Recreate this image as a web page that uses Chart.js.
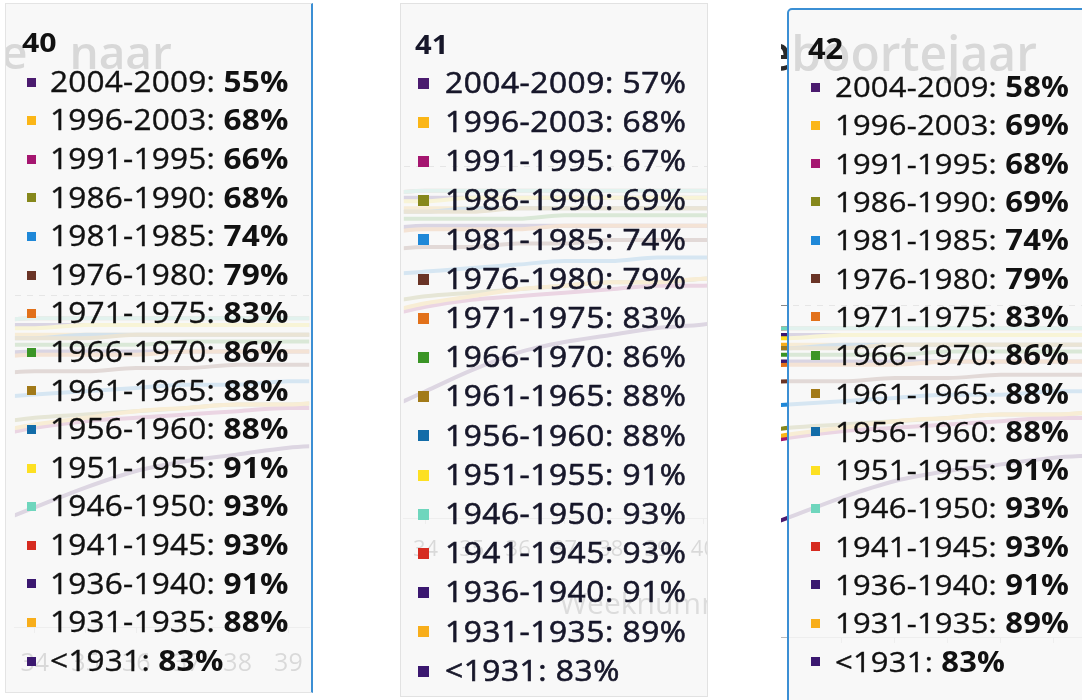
<!DOCTYPE html>
<html>
<head>
<meta charset="utf-8">
<script src="https://cdn.jsdelivr.net/npm/chart.js@4.4.1/dist/chart.umd.min.js"></script>
<style>
  html, body { margin: 0; padding: 0; background: #fff; }
  body { width: 1082px; height: 700px; position: relative; overflow: hidden; font-family: "Open Sans", sans-serif; }
  .panel { position: absolute; overflow: hidden; background: #fff; }
  .panel canvas { position: absolute; left: 0; top: 0; }
  .bgtitle { position: absolute; white-space: nowrap; font-weight: 600; color: #2a2a2a; line-height: 1; }
  .layer { position: absolute; left: 0; top: 0; right: 0; bottom: 0; }
  .box { position: absolute; box-sizing: border-box; background: rgba(247, 247, 247, 0.85); }
  .ttl, .row { position: absolute; white-space: nowrap; line-height: 1; transform-origin: 0 50%; }
  .sq { position: absolute; }
</style>
</head>
<body>
<script>
// weeknummer en geboortejaar-groepen
const weeks = [33, 34, 35, 36, 37, 38, 39, 40, 41, 42];
const cohorts = ['2004-2009', '1996-2003', '1991-1995', '1986-1990', '1981-1985', '1976-1980',
  '1971-1975', '1966-1970', '1961-1965', '1956-1960', '1951-1955', '1946-1950',
  '1941-1945', '1936-1940', '1931-1935', '<1931'];
const colors = ['#4b1b6f', '#fbb617', '#a51670', '#86881c', '#1f88d8', '#6a3426',
  '#e2711a', '#3b9526', '#a27a19', '#136ca8', '#fde022', '#6fd6bd',
  '#d62b20', '#3b1870', '#f8ae1b', '#3b1870'];

// vaccinatiegraad (%) per week, zelfde volgorde als cohorts
const week33 = [30, 58, 57, 61, 69, 76, 81, 85, 87, 87, 90, 92, 92, 91, 88, 82];
const week34 = [36, 61, 60, 63, 70, 77, 82, 85, 87, 87, 90, 93, 93, 91, 88, 83];
const week35 = [42, 63, 62, 64, 71, 77, 82, 85, 87, 88, 91, 93, 93, 91, 88, 83];
const week36 = [47, 65, 63, 65, 72, 78, 82, 85, 88, 88, 91, 93, 93, 91, 88, 83];
const week37 = [50, 66, 64, 66, 73, 78, 83, 86, 88, 88, 91, 93, 93, 91, 88, 83];
const week38 = [52, 67, 65, 67, 73, 79, 83, 86, 88, 88, 91, 93, 93, 91, 88, 83];
const week39 = [54, 67, 66, 67, 74, 79, 83, 86, 88, 88, 91, 93, 93, 91, 88, 83];
const week40 = [55, 68, 66, 68, 74, 79, 83, 86, 88, 88, 91, 93, 93, 91, 88, 83];
const week41 = [57, 68, 67, 69, 74, 79, 83, 86, 88, 88, 91, 93, 93, 91, 89, 83];
const week42 = [58, 69, 68, 69, 74, 79, 83, 86, 88, 88, 91, 93, 93, 91, 89, 83];
const weekValues = [week33, week34, week35, week36, week37, week38, week39, week40, week41, week42];

const tipWeeks = [40, 41, 42];

Chart.defaults.font.family = '"Open Sans", sans-serif';

// drie schermafdrukken naast elkaar
const panels = [
  { id: 'p40', left: 5, top: 3, width: 313, height: 690, canvasW: 313, canvasH: 740,
    xMin: 33.61, xMax: 39.41, chartTop: 292, chartBottom: 624, tickFont: 25, tickPad: 16, showLabels: true,
    box: { left: 0, top: 0, width: 308, height: 690, border: '1px solid #e4e4e4', borderRight: '2px solid #3b8fd4', radius: 0 },
    bg: { text: 'e naar', left: -4, base: 66, size: 46, wordSpacing: 30 },
    ttl: { left: 17, cy: 39, size: 27, weight: 700, sx: 1.12 },
    row: { sqLeft: 22, sq: 9, textLeft: 45, cy0: 79, step: 38.6, size: 28.5, sx: 1.108, ls: 0.2, stroke: 0.35, bold: true, color: '#111' } },
  { id: 'p41', left: 400, top: 3, width: 308, height: 694, canvasW: 514, canvasH: 640,
    xMin: 33.53, xMax: 44.54, chartTop: 163, chartBottom: 515, tickFont: 22, tickPad: 13, showLabels: true,
    axisTitle: true, titleFont: 30, titlePad: 20,
    box: { left: 0, top: 0, width: 308, height: 694, border: '1px solid #e2e2e2', radius: 0 },
    ttl: { left: 15, cy: 41, size: 27, weight: 700, sx: 1.08 },
    row: { sqLeft: 18, sq: 11, textLeft: 45, cy0: 80, step: 39.2, size: 28.5, sx: 1.11, ls: 0.5, stroke: 0.6, bold: false, color: '#17172a' } },
  { id: 'p42', left: 781, top: 0, width: 301, height: 700, canvasW: 301, canvasH: 700,
    xMin: 33.85, xMax: 39.53, chartTop: 305, chartBottom: 637, tickFont: 25, tickPad: 16, showLabels: false,
    box: { left: 6, top: 8, width: 330, height: 720, border: '2px solid #3b8fd4', radius: 5 },
    bg: { text: 'geboortejaar', left: -44, base: 72, size: 48, wordSpacing: 0 },
    ttl: { left: 27, cy: 49, size: 28, weight: 700, sx: 1.1 },
    row: { sqLeft: 30, sq: 9, textLeft: 54, cy0: 87, step: 38.3, size: 28, sx: 1.106, ls: 0.2, stroke: 0.35, bold: true, color: '#111' } }
];
const panelById = {};

function renderTip(context) {
  const tooltip = context.tooltip;
  const p = panelById[context.chart.canvas.id];
  const layer = p.layerEl;
  layer.replaceChildren();
  if (!tooltip.dataPoints || !tooltip.dataPoints.length) return;

  const box = document.createElement('div');
  box.className = 'box';
  Object.assign(box.style, {
    left: p.box.left + 'px', top: p.box.top + 'px', width: p.box.width + 'px', height: p.box.height + 'px',
    border: p.box.border, borderRadius: p.box.radius + 'px'
  });
  if (p.box.borderRight) box.style.borderRight = p.box.borderRight;
  layer.appendChild(box);

  const t = document.createElement('div');
  t.className = 'ttl';
  t.textContent = tooltip.title[0];
  Object.assign(t.style, {
    left: p.ttl.left + 'px', top: (p.ttl.cy - 0.531 * p.ttl.size) + 'px',
    fontSize: p.ttl.size + 'px', fontWeight: p.ttl.weight, color: p.row.color,
    transform: 'scaleX(' + p.ttl.sx + ')'
  });
  layer.appendChild(t);

  const r = p.row;
  tooltip.dataPoints.forEach((dp, i) => {
    const cy = r.cy0 + i * r.step;
    const sq = document.createElement('div');
    sq.className = 'sq';
    Object.assign(sq.style, {
      left: r.sqLeft + 'px', top: (cy - r.sq / 2) + 'px', width: r.sq + 'px', height: r.sq + 'px',
      background: tooltip.labelColors[i].backgroundColor
    });
    layer.appendChild(sq);

    const row = document.createElement('div');
    row.className = 'row';
    Object.assign(row.style, {
      left: r.textLeft + 'px', top: (cy - 0.531 * r.size) + 'px', fontSize: r.size + 'px',
      letterSpacing: r.ls + 'px', color: r.color, transform: 'scaleX(' + r.sx + ')'
    });
    row.style.webkitTextStroke = r.stroke + 'px ' + r.color;
    row.appendChild(document.createTextNode(dp.dataset.label + ': '));
    const val = document.createElement('span');
    val.style.fontWeight = r.bold ? 700 : 400;
    if (r.bold) val.style.webkitTextStroke = '0px';
    val.textContent = dp.parsed.y + '%';
    row.appendChild(val);
    layer.appendChild(row);
  });
}

panels.forEach((p, k) => {
  panelById[p.id] = p;
  const div = document.createElement('div');
  div.className = 'panel';
  Object.assign(div.style, { left: p.left + 'px', top: p.top + 'px', width: p.width + 'px', height: p.height + 'px' });
  document.body.appendChild(div);

  const canvas = document.createElement('canvas');
  canvas.id = p.id;
  canvas.width = p.canvasW;
  canvas.height = p.canvasH;
  canvas.style.width = p.canvasW + 'px';
  canvas.style.height = p.canvasH + 'px';
  div.appendChild(canvas);

  if (p.bg) {
    const bg = document.createElement('div');
    bg.className = 'bgtitle';
    bg.textContent = p.bg.text;
    Object.assign(bg.style, {
      left: p.bg.left + 'px', top: (p.bg.base - 0.888 * p.bg.size) + 'px',
      fontSize: p.bg.size + 'px', wordSpacing: p.bg.wordSpacing + 'px'
    });
    div.appendChild(bg);
  }

  const layer = document.createElement('div');
  layer.className = 'layer';
  div.appendChild(layer);
  p.layerEl = layer;

  const datasets = cohorts.map((c, i) => ({
    label: c,
    data: weeks.map((w, j) => ({ x: w, y: weekValues[j][i] })),
    borderColor: colors[i],
    backgroundColor: colors[i],
    borderWidth: 4,
    pointRadius: 0,
    cubicInterpolationMode: 'monotone'
  }));

  const chart = new Chart(canvas, {
    type: 'line',
    data: { datasets: datasets },
    options: {
      responsive: false,
      animation: false,
      events: [],
      layout: { padding: { top: p.chartTop, left: 0, right: 0, bottom: 0 } },
      plugins: {
        legend: { display: false },
        title: { display: false },
        tooltip: { enabled: false, mode: 'index', intersect: false, external: renderTip }
      },
      scales: {
        x: {
          type: 'linear',
          min: p.xMin,
          max: p.xMax,
          afterFit: (s) => { s.height = p.canvasH - p.chartBottom; },
          ticks: {
            stepSize: 1, includeBounds: false, autoSkip: false, maxRotation: 0,
            display: p.showLabels, padding: p.tickPad, color: '#333',
            font: { size: p.tickFont }
          },
          grid: { drawOnChartArea: false, drawTicks: true, tickLength: 6, color: '#bbb' },
          border: { color: '#bbb' },
          title: {
            display: !!p.axisTitle, text: 'Weeknummer', color: '#444',
            font: { size: p.titleFont || 30 }, padding: { top: 0, bottom: p.titlePad || 0 }
          }
        },
        y: {
          min: 0,
          max: 100,
          afterFit: (s) => { s.width = 0; },
          ticks: { display: false, stepSize: 100 },
          grid: { color: '#888', drawTicks: false, lineWidth: 1 },
          border: { display: false, dash: [6, 6] }
        }
      }
    }
  });

  const idx = weeks.indexOf(tipWeeks[k]);
  chart.tooltip.setActiveElements(cohorts.map((c, i) => ({ datasetIndex: i, index: idx })), { x: 0, y: 0 });
});
</script>
</body>
</html>
